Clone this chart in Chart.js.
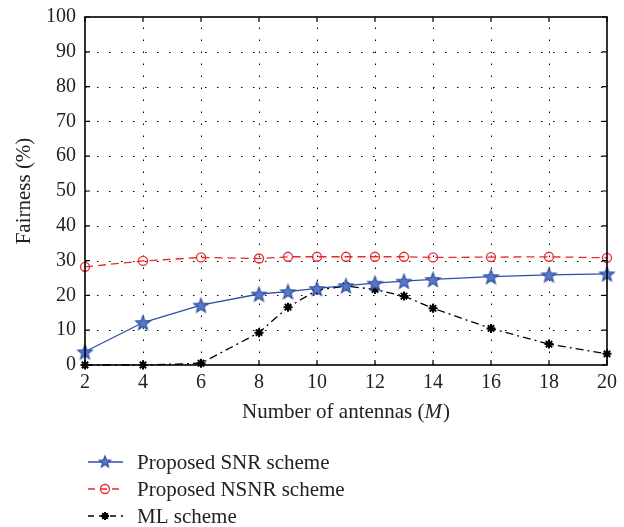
<!DOCTYPE html>
<html><head><meta charset="utf-8">
<script src="https://cdn.jsdelivr.net/npm/chart.js@4/dist/chart.umd.min.js"></script>
<style>html,body{margin:0;padding:0;background:#fff}#wrap{width:624px;height:527px}</style>
</head><body><div id="wrap"><canvas id="c" width="624" height="527"></canvas></div>
<script>
const antennas = [2, 4, 6, 8, 9, 10, 11, 12, 13, 14, 16, 18, 20];
const snrFairness = [3.8, 12.2, 17.2, 20.4, 21.1, 22.0, 22.8, 23.5, 24.1, 24.6, 25.4, 25.9, 26.2];
const nsnrFairness = [28.2, 29.9, 30.9, 30.6, 31.1, 31.1, 31.1, 31.1, 31.1, 30.9, 31.0, 31.1, 30.8];
const mlFairness = [0, 0, 0.5, 9.3, 16.6, 21.5, 22.7, 21.7, 19.8, 16.3, 10.5, 6.0, 3.2];
const xTicks = [2, 4, 6, 8, 10, 12, 14, 16, 18, 20];
const yTicks = [0, 10, 20, 30, 40, 50, 60, 70, 80, 90, 100];
const seriesNames = ['Proposed SNR scheme', 'Proposed NSNR scheme', 'ML scheme'];
const yTitle = 'Fairness (%)';
const xTitleParts = ['Number of antennas (', 'M', ')'];

const FONT = '"Liberation Serif", "DejaVu Serif", serif';
const BLUE = '#2f4fa5', RED = '#e8282c', BLACK = '#000';
const TICK_FS = 20, TEXT_FS = 21;

function starImage(outer, inner) {
  const s = Math.ceil(outer * 2 + 4);
  const c = document.createElement('canvas');
  c.width = s; c.height = s;
  const g = c.getContext('2d');
  const cx = s / 2, cy = s / 2 + outer * 0.1;
  g.beginPath();
  for (let i = 0; i < 10; i++) {
    const r = i % 2 === 0 ? outer : inner;
    const a = -Math.PI / 2 + i * Math.PI / 5;
    const px = cx + r * Math.cos(a), py = cy + r * Math.sin(a);
    if (i === 0) g.moveTo(px, py); else g.lineTo(px, py);
  }
  g.closePath();
  g.fillStyle = '#5a78c8'; g.fill();
  g.lineWidth = 1.2; g.strokeStyle = BLUE; g.stroke();
  return c;
}
const STAR = starImage(7.5, 3.2);
const STAR_SMALL = starImage(6, 2.6);

function toPts(ys) { return antennas.map((x, i) => ({ x: x, y: ys[i] })); }

const datasets = [
  { label: seriesNames[0], data: toPts(snrFairness), borderColor: BLUE, backgroundColor: BLUE,
    borderWidth: 1.3, pointStyle: STAR, pointRadius: 8, clip: false, _legend: 'star', _dash: [] },
  { label: seriesNames[1], data: toPts(nsnrFairness), borderColor: RED, backgroundColor: 'rgba(0,0,0,0)',
    borderWidth: 1.3, borderDash: [8, 5], pointStyle: 'circle', pointRadius: 4.5, pointBorderWidth: 1.3,
    clip: false, _legend: 'circle', _dash: [7, 5] },
  { label: seriesNames[2], data: toPts(mlFairness), borderColor: BLACK, backgroundColor: BLACK,
    borderWidth: 1.3, borderDash: [8, 4, 2, 4], pointStyle: 'star', pointRadius: 4.5, pointBorderWidth: 2,
    clip: false, _legend: 'ast', _dash: [6, 5] }
];

function drawMarker(ctx, kind, x, y, color) {
  ctx.save();
  ctx.setLineDash([]);
  if (kind === 'star') {
    ctx.drawImage(STAR_SMALL, x - STAR_SMALL.width / 2, y - STAR_SMALL.height / 2 - 0.6);
  } else if (kind === 'circle') {
    ctx.strokeStyle = color; ctx.lineWidth = 1.3;
    ctx.beginPath(); ctx.arc(x, y, 4.5, 0, Math.PI * 2); ctx.stroke();
  } else {
    ctx.strokeStyle = color; ctx.lineWidth = 2;
    const r = 4;
    ctx.beginPath();
    for (let k = 0; k < 4; k++) {
      const a = k * Math.PI / 4;
      ctx.moveTo(x - r * Math.cos(a), y - r * Math.sin(a));
      ctx.lineTo(x + r * Math.cos(a), y + r * Math.sin(a));
    }
    ctx.stroke();
  }
  ctx.restore();
}

const framePlugin = {
  id: 'frame',
  beforeDatasetsDraw(chart) {
    const { ctx, chartArea: a, scales: { x, y } } = chart;
    ctx.save();
    ctx.strokeStyle = '#000'; ctx.lineWidth = 1;
    ctx.setLineDash([1.5, 10.5]);
    xTicks.forEach(v => {
      if (v === xTicks[0] || v === xTicks[xTicks.length - 1]) return;
      const px = Math.round(x.getPixelForValue(v)) + 0.5;
      ctx.beginPath(); ctx.moveTo(px, a.bottom); ctx.lineTo(px, a.top); ctx.stroke();
    });
    yTicks.forEach(v => {
      if (v === yTicks[0] || v === yTicks[yTicks.length - 1]) return;
      const py = Math.round(y.getPixelForValue(v)) + 0.5;
      ctx.beginPath(); ctx.moveTo(a.left, py); ctx.lineTo(a.right, py); ctx.stroke();
    });
    ctx.restore();
  },
  afterDraw(chart) {
    const { ctx, chartArea: a, scales: { x, y } } = chart;
    ctx.save();
    ctx.strokeStyle = '#000'; ctx.lineWidth = 1.6; ctx.setLineDash([]);
    ctx.strokeRect(a.left, a.top, a.right - a.left, a.bottom - a.top);
    ctx.lineWidth = 1.2;
    const T = 5;
    xTicks.forEach(v => {
      const px = x.getPixelForValue(v);
      ctx.beginPath(); ctx.moveTo(px, a.bottom); ctx.lineTo(px, a.bottom - T);
      ctx.moveTo(px, a.top); ctx.lineTo(px, a.top + T); ctx.stroke();
    });
    yTicks.forEach(v => {
      const py = y.getPixelForValue(v);
      ctx.beginPath(); ctx.moveTo(a.left, py); ctx.lineTo(a.left + T, py);
      ctx.moveTo(a.right, py); ctx.lineTo(a.right - T, py); ctx.stroke();
    });
    // x axis title with italic M
    const f1 = TEXT_FS + 'px ' + FONT, f2 = 'italic ' + TEXT_FS + 'px ' + FONT;
    ctx.fillStyle = '#222';
    ctx.textBaseline = 'middle'; ctx.textAlign = 'left';
    ctx.font = f1; const w1 = ctx.measureText(xTitleParts[0]).width, w3 = ctx.measureText(xTitleParts[2]).width;
    ctx.font = f2; const w2 = ctx.measureText(xTitleParts[1]).width;
    let sx = (a.left + a.right) / 2 - (w1 + w2 + w3 + 1) / 2;
    const ty = 412;
    ctx.font = f1; ctx.fillText(xTitleParts[0], sx, ty); sx += w1;
    ctx.font = f2; ctx.fillText(xTitleParts[1], sx, ty); sx += w2 + 1;
    ctx.font = f1; ctx.fillText(xTitleParts[2], sx, ty);
    // legend
    const rows = [462, 489, 516];
    chart.data.datasets.forEach((ds, i) => {
      const ly = rows[i];
      ctx.save();
      ctx.strokeStyle = ds.borderColor; ctx.lineWidth = 1.3; ctx.setLineDash(ds._dash);
      ctx.beginPath(); ctx.moveTo(88, ly); ctx.lineTo(123, ly); ctx.stroke();
      ctx.restore();
      drawMarker(ctx, ds._legend, 105, ly, ds.borderColor);
      ctx.font = f1; ctx.fillStyle = '#222'; ctx.textAlign = 'left'; ctx.textBaseline = 'middle';
      ctx.fillText(ds.label, 137, ly + 1);
    });
    ctx.restore();
  }
};

new Chart(document.getElementById('c'), {
  type: 'line',
  data: { datasets },
  plugins: [framePlugin],
  options: {
    responsive: false, devicePixelRatio: 1, animation: false,
    layout: { padding: { top: 17, right: 17, left: 0, bottom: 102 } },
    plugins: { legend: { display: false }, tooltip: { enabled: false } },
    scales: {
      x: {
        type: 'linear', min: 2, max: 20,
        afterBuildTicks: s => { s.ticks = xTicks.map(v => ({ value: v })); },
        afterFit: s => { s.height = 60; s.paddingLeft = 0; s.paddingRight = 0; },
        grid: { display: false, drawTicks: false }, border: { display: false },
        ticks: { color: '#222', font: { family: FONT, size: TICK_FS }, padding: 6, maxRotation: 0 }
      },
      y: {
        min: 0, max: 100,
        afterBuildTicks: s => { s.ticks = yTicks.map(v => ({ value: v })); },
        afterFit: s => { s.width = 85; s.paddingTop = 0; s.paddingBottom = 0; },
        grid: { display: false, drawTicks: false }, border: { display: false },
        ticks: { color: '#222', font: { family: FONT, size: TICK_FS }, padding: 9 },
        title: { display: true, text: yTitle, color: '#222', font: { family: FONT, size: TEXT_FS },
          padding: { top: 12, bottom: 0 } }
      }
    }
  }
});
</script></body></html>
